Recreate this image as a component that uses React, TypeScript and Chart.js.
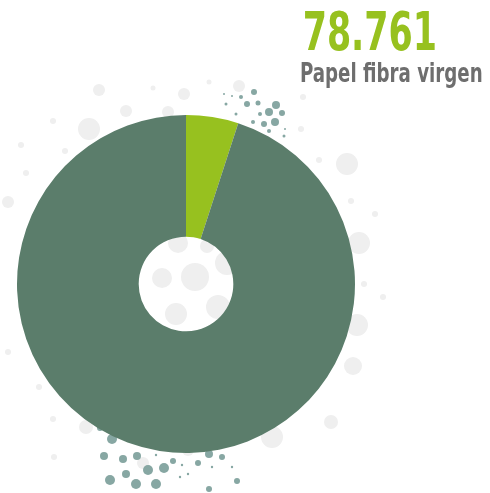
import React, { useEffect, useRef } from "react";
import { Chart, registerables } from "chart.js";

Chart.register(...registerables);

const categories = ["Papel fibra virgen", "Resto"];
const values = [5, 95];
const colors = ["#97c11f", "#5b7d6b"];
const headline = "78.761";
const subtitle = "Papel fibra virgen";

// decorative background dots: [x, y, r, kind] (0 = light grey, 1 = teal)
const decorDots: number[][] = [
  [99, 90, 6, 0], [153, 88, 2.5, 0], [184, 94, 6, 0], [239, 86, 6, 0], [209, 82, 2.5, 0],
  [126, 111, 6, 0], [168, 112, 6, 0], [89, 129, 11, 0], [53, 121, 3, 0], [21, 145, 3, 0],
  [65, 151, 3, 0], [26, 173, 3, 0], [8, 202, 6, 0], [303, 97, 3, 0], [301, 129, 3, 0],
  [319, 160, 3, 0], [347, 164, 11, 0], [351, 201, 3, 0], [375, 214, 3, 0], [359, 243, 11, 0],
  [178, 243, 10, 0], [207, 246, 7, 0], [195, 277, 14, 0], [162, 278, 10, 0], [227, 263, 12, 0],
  [176, 314, 11, 0], [218, 307, 12, 0], [364, 284, 3, 0], [383, 297, 3, 0], [357, 325, 11, 0],
  [353, 366, 9, 0], [8, 352, 3, 0], [39, 387, 3, 0], [53, 419, 3, 0], [86, 427, 7, 0],
  [331, 422, 7, 0], [272, 437, 11, 0], [54, 457, 3, 0], [143, 463, 6, 0], [188, 450, 6, 0],
  [254, 92, 3, 1], [241, 97, 2, 1], [247, 104, 3, 1], [258, 103, 2.5, 1], [276, 105, 4, 1],
  [269, 112, 4, 1], [282, 113, 3, 1], [260, 114, 2, 1], [275, 122, 4, 1], [264, 124, 3, 1],
  [253, 122, 2, 1], [236, 114, 1.5, 1], [226, 104, 1.5, 1], [269, 131, 2, 1], [284, 136, 1.5, 1],
  [285, 129, 1, 1], [224, 94, 1, 1], [232, 96, 1, 1],
  [100, 428, 3, 1], [112, 439, 5, 1], [104, 456, 4, 1], [123, 459, 4, 1], [137, 456, 4, 1],
  [156, 455, 1.2, 1], [173, 461, 3, 1], [182, 465, 1.2, 1], [198, 463, 3, 1], [209, 454, 4, 1],
  [222, 457, 3, 1], [212, 467, 1.2, 1], [232, 467, 1.2, 1], [126, 474, 4, 1], [148, 470, 5, 1],
  [164, 468, 5, 1], [110, 480, 5, 1], [136, 484, 5, 1], [156, 484, 5, 1], [180, 477, 1.2, 1],
  [188, 474, 1.2, 1], [209, 489, 3, 1], [237, 481, 3, 1],
];

const decorPlugin = {
  id: "decor",
  beforeDatasetsDraw(chart: any) {
    const ctx = chart.ctx;
    ctx.save();
    for (const [x, y, r, k] of decorDots) {
      ctx.beginPath();
      ctx.arc(x, y, r, 0, Math.PI * 2);
      ctx.fillStyle = k === 1 ? "#87a7a3" : "#efefef";
      ctx.fill();
    }
    ctx.restore();
  },
};

export default function App() {
  const ref = useRef<HTMLCanvasElement>(null);
  useEffect(() => {
    if (!ref.current) return;
    const chart = new Chart(ref.current, {
      type: "doughnut",
      data: {
        labels: categories,
        datasets: [
          {
            data: values,
            backgroundColor: colors,
            borderWidth: 0,
          },
        ],
      },
      options: {
        responsive: false,
        animation: false,
        cutout: "28%",
        layout: { padding: { left: 17, right: 135, top: 115, bottom: 40 } },
        plugins: { legend: { display: false }, tooltip: { enabled: false } },
      },
      plugins: [decorPlugin],
    });
    return () => chart.destroy();
  }, []);
  return (
    <div style={{ position: "fixed", left: 0, top: 0, width: 490, height: 493, background: "#fff" }}>
      <canvas ref={ref} width={490} height={493} style={{ position: "absolute", left: 0, top: 0 }} />
      <div
        style={{
          position: "absolute",
          right: 53,
          top: 2,
          fontFamily: "'DejaVu Sans Condensed', 'DejaVu Sans', sans-serif",
          fontWeight: 700,
          fontSize: 53,
          lineHeight: "60px",
          color: "#97c11f",
          whiteSpace: "nowrap",
          transform: "scaleX(0.73)",
          transformOrigin: "right center",
        }}
      >
        {headline}
      </div>
      <div
        style={{
          position: "absolute",
          right: 7,
          top: 57,
          fontFamily: "'DejaVu Sans Condensed', 'DejaVu Sans', sans-serif",
          fontWeight: 700,
          fontSize: 27,
          lineHeight: "32px",
          color: "#6e6e6e",
          whiteSpace: "nowrap",
          transform: "scaleX(0.75)",
          transformOrigin: "right center",
        }}
      >
        {subtitle}
      </div>
    </div>
  );
}
